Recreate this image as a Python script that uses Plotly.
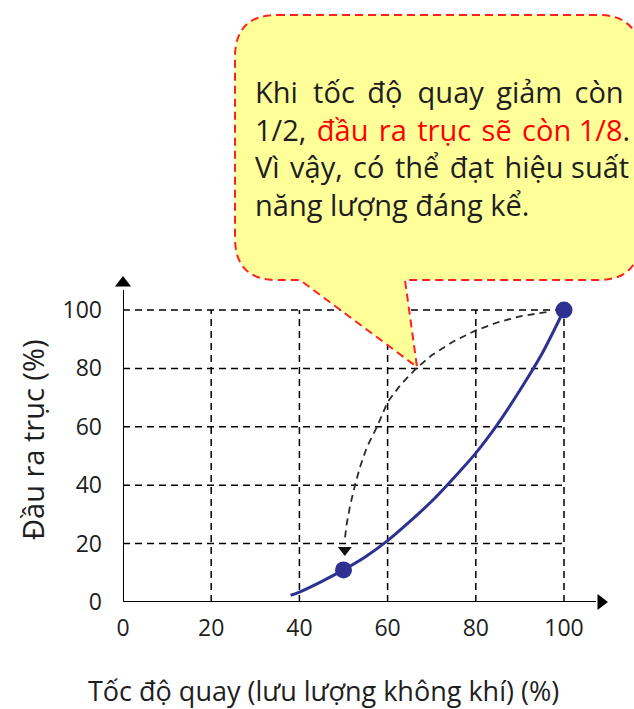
import plotly.graph_objects as go

# Fan characteristic: shaft output vs rotation speed
speed = [38, 40, 45, 50, 55, 60, 65, 70, 75, 80, 85, 90, 95, 100]
output = [2.3, 3.4, 7.0, 11.0, 15.5, 21.0, 27.5, 34.5, 42.5, 51.0, 61.0, 72.5, 85.0, 100.0]

# Highlighted operating points
point_speed = [50, 100]
point_output = [11, 100]

# Dashed guide arc from full speed down to half speed
arc_x = [96, 90, 85, 80, 75, 70, 66.5, 63, 60, 57.6, 55.3, 53.8, 52.6, 51.5, 50.7, 50.3]
arc_y = [99.3, 97.8, 95.8, 93, 89.3, 84.5, 80, 74.5, 68.5, 60, 53, 46.5, 40, 33, 26.5, 21.5]

tick_vals = [0, 20, 40, 60, 80, 100]
tick_text = ["0", "20", "40", "60", "80", "100"]

x_title = "Tốc độ quay (lưu lượng không khí) (%)"
y_title = "Đầu ra trục (%)"

RED = "<span style='color:#ff0000'>{}</span>"
TS = "\u2009"  # thin space, widens gaps so lines look justified
HS = "\u200a"  # hair space

callout_lines = [
    f"Khi{TS}{HS} tốc{TS} độ{TS}{HS} quay{TS} giảm{TS} còn",
    f"1/2,{HS} " + RED.format(f"đầu{HS} ra{HS} trục{HS} sẽ{HS} còn 1/8") + ".",
    f"Vì{HS} vậy,{HS} có{HS} thể{HS} đạt{HS} hiệu suất",
    "năng lượng đáng kể.",
]

W, H = 634, 709
ML, MB = 123, 107
PX_X = 4.41   # pixels per x unit
PX_Y = 2.92   # pixels per y unit
X_MAX = (W - ML) / PX_X
Y_MAX = (H - MB) / PX_Y
PLOT_W, PLOT_H = W - ML, H - MB


def dx(px):
    return (px - ML) / PX_X


def dy(py):
    return (H - MB - py) / PX_Y


FONT = "Open Sans"
TXT = "#1e1e1e"
BLUE = "#2f3192"

fig = go.Figure()

# Guide arc
fig.add_trace(go.Scatter(
    x=arc_x, y=arc_y, mode="lines",
    line=dict(color="#2a2a2a", width=1.8, dash="7px,5px"),
    hoverinfo="skip", showlegend=False, cliponaxis=False,
))
fig.add_trace(go.Scatter(
    x=[arc_x[-1]], y=[17.8], mode="markers",
    marker=dict(symbol="triangle-down", size=12, color="#111111"),
    hoverinfo="skip", showlegend=False, cliponaxis=False,
))

# Output curve
fig.add_trace(go.Scatter(
    x=speed, y=output, mode="lines",
    line=dict(color=BLUE, width=3, shape="spline", smoothing=0.8),
    showlegend=False, cliponaxis=False,
))
fig.add_trace(go.Scatter(
    x=point_speed, y=point_output, mode="markers",
    marker=dict(color=BLUE, size=17),
    showlegend=False, cliponaxis=False,
))

# Axis arrowheads
fig.add_trace(go.Scatter(
    x=[dx(601), 0], y=[0, dy(283)], mode="markers",
    marker=dict(symbol=["triangle-right", "triangle-up"], size=14, color="#000000"),
    hoverinfo="skip", showlegend=False, cliponaxis=False,
))

shapes = []
grid_style = dict(color="#000000", width=1.5, dash="7px,5px")
for v in tick_vals[1:]:
    shapes.append(dict(type="line", xref="x", yref="y", x0=v, x1=v, y0=0, y1=100,
                       line=grid_style, layer="below"))
    shapes.append(dict(type="line", xref="x", yref="y", x0=0, x1=100, y0=v, y1=v,
                       line=grid_style, layer="below"))

# Speech bubble
L, R, T, B, r = 235, 640, 15, 280, 42
pts = [
    ("M", L + r, T), ("L", R - r, T), ("Q", R, T, R, T + r), ("L", R, B - r),
    ("Q", R, B, R - r, B), ("L", 405, B), ("L", 417, 367), ("L", 300, B),
    ("L", L + r, B), ("Q", L, B, L, B - r), ("L", L, T + r), ("Q", L, T, L + r, T),
]
path = ""
for p in pts:
    cmd = p[0]
    coords = p[1:]
    segs = []
    for i in range(0, len(coords), 2):
        segs.append(f"{dx(coords[i]):.3f},{dy(coords[i + 1]):.3f}")
    path += cmd + " ".join(segs) + " "
path += "Z"
shapes.append(dict(type="path", xref="x", yref="y", path=path,
                   fillcolor="#ffff99", line=dict(color="#ff2020", width=2, dash="8px,5px"),
                   layer="below"))

# Axis lines
shapes.append(dict(type="line", xref="x", yref="y", x0=0, x1=dx(596), y0=0, y1=0,
                   line=dict(color="#000000", width=2), layer="above"))
shapes.append(dict(type="line", xref="x", yref="y", x0=0, x1=0, y0=0, y1=dy(290),
                   line=dict(color="#000000", width=2), layer="above"))

annotations = [dict(
    x=dx(253), y=dy(148), xref="x", yref="y", text="<br>".join(callout_lines),
    showarrow=False, xanchor="left", yanchor="middle", align="left",
    font=dict(family=FONT, size=29, color=TXT),
)]

annotations.append(dict(
    x=(323 - ML) / PLOT_W, y=(PLOT_H - 690) / PLOT_H, xref="paper", yref="paper",
    text=x_title, showarrow=False, xanchor="center", yanchor="middle",
    font=dict(family=FONT, size=27, color=TXT),
))
annotations.append(dict(
    x=(32 - ML) / PLOT_W, y=(PLOT_H - 440) / PLOT_H, xref="paper", yref="paper",
    text=y_title, showarrow=False, textangle=-90, xanchor="center", yanchor="middle",
    font=dict(family=FONT, size=29, color=TXT),
))

fig.update_layout(
    width=W, height=H, autosize=False,
    margin=dict(l=ML, r=0, t=0, b=MB, pad=0),
    paper_bgcolor="#ffffff", plot_bgcolor="#ffffff",
    shapes=shapes, annotations=annotations,
    xaxis=dict(range=[0, X_MAX], tickvals=tick_vals, ticktext=tick_text,
               showgrid=False, zeroline=False, showline=False, ticks="",
               ticklabelstandoff=10,
               tickfont=dict(family=FONT, size=23, color=TXT), fixedrange=True),
    yaxis=dict(range=[0, Y_MAX], tickvals=tick_vals, ticktext=tick_text,
               showgrid=False, zeroline=False, showline=False, ticks="",
               ticklabelstandoff=20,
               tickfont=dict(family=FONT, size=23, color=TXT), fixedrange=True),
)

fig.write_html("out.html")
